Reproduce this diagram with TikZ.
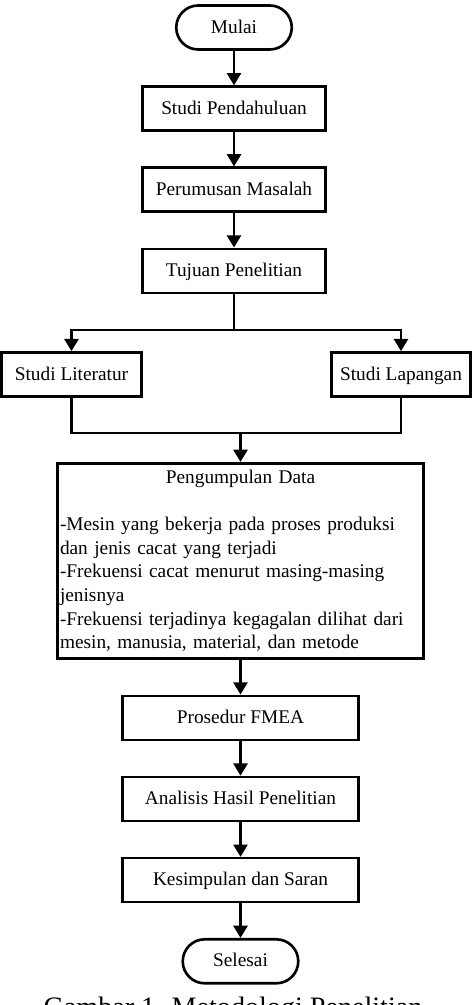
\documentclass[tikz,border=0pt]{standalone}
\usepackage{fontspec}
\setmainfont{Liberation Serif}
\usetikzlibrary{arrows.meta, positioning}

\begin{document}
\begin{tikzpicture}[
    node distance=0.69cm,
    frame/.style={
      rectangle, draw=black, line width=1.5pt,
      font=\fontsize{11}{13.4}\selectfont
    },
    box/.style={
      frame, minimum width=3.65cm, minimum height=0.88cm,
      text height=8.2pt, text depth=1.8pt, inner sep=2pt
    },
    widebox/.style={box, minimum width=4.71cm},
    sidebox/.style={box, minimum width=2.79cm},
    termbox/.style={box, rounded corners=12.5pt, minimum width=2.31cm},
    databox/.style={frame, text width=7.22cm, minimum height=3.91cm, inner sep=1.5pt},
    arr/.style={-{Triangle[length=7pt, width=8pt]}, line width=1.5pt},
    link/.style={line width=1.5pt}
  ]
  \clip (0,0) rectangle (9.48,-20.1);

  % upper column
  \node[termbox] (mulai) at (4.68,-0.55) {Mulai};
  \node[box, below=of mulai]      (pendahuluan) {Studi Pendahuluan};
  \node[box, below=of pendahuluan] (rumusan)    {Perumusan Masalah};
  \node[box, below=of rumusan]    (tujuan)      {Tujuan Penelitian};

  % two branches
  \node[sidebox] (literatur) at (1.43,-7.49) {Studi Literatur};
  \node[sidebox] (lapangan)  at (8.02,-7.49) {Studi Lapangan};

  \node[databox] (data) at (4.81,-11.22) {%
    {\centering Pengumpulan Data\par}
    \vspace{13.4pt}
    \raggedright\noindent
    -Mesin yang bekerja pada proses produksi\\
    dan jenis cacat yang terjadi\\
    -Frekuensi cacat menurut masing-masing\\
    jenisnya\\
    -Frekuensi terjadinya kegagalan dilihat dari\\
    mesin, manusia, material, dan metode};

  % lower column
  \node[widebox, below=of data]     (fmea)       {Prosedur FMEA};
  \node[widebox, below=of fmea]     (analisis)   {Analisis Hasil Penelitian};
  \node[widebox, below=of analisis] (kesimpulan) {Kesimpulan dan Saran};
  \node[termbox, below=of kesimpulan] (selesai)  {Selesai};

  \node[font=\fontsize{16}{19}\selectfont, anchor=north, inner sep=0pt]
    (caption) at (4.66,-19.94) {Gambar 1. Metodologi Penelitian};

  \coordinate (split) at (4.68,-6.6);
  \coordinate (merge) at (4.81,-8.66);

  \draw[arr] (mulai)       -- (pendahuluan);
  \draw[arr] (pendahuluan) -- (rumusan);
  \draw[arr] (rumusan)     -- (tujuan);
  \draw[link] (tujuan)     -- (split);
  \draw[arr] (split) -| (literatur);
  \draw[arr] (split) -| (lapangan);
  \draw[link] (literatur) |- (merge) -| (lapangan);
  \draw[arr] (merge)      -- (data);
  \draw[arr] (data)       -- (fmea);
  \draw[arr] (fmea)       -- (analisis);
  \draw[arr] (analisis)   -- (kesimpulan);
  \draw[arr] (kesimpulan) -- (selesai);
\end{tikzpicture}
\end{document}
